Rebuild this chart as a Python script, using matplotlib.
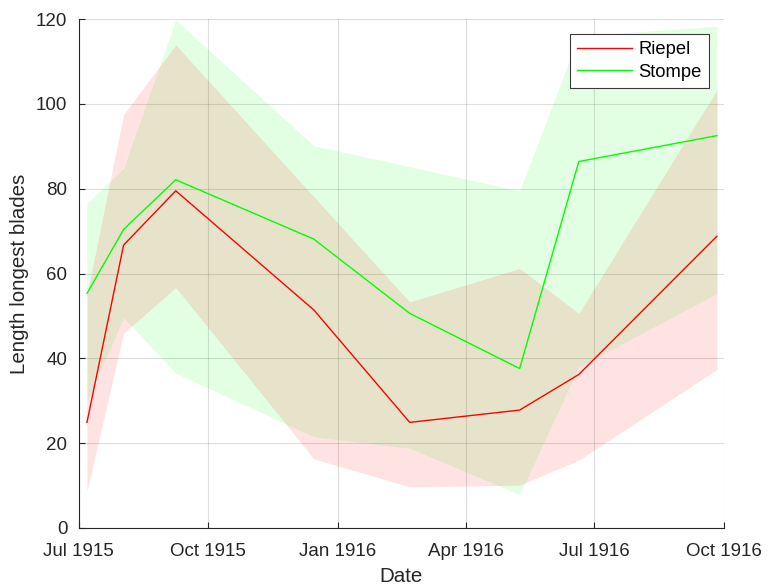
import matplotlib
matplotlib.use("Agg")
import matplotlib.pyplot as plt
import matplotlib.dates as mdates
import numpy as np
import datetime as dt

dates = ["1915-07-07", "1915-08-02", "1915-09-08", "1915-12-15",
         "1916-02-21", "1916-05-09", "1916-06-20", "1916-09-26"]

riepel_mean = [24.9, 66.7, 79.5, 51.4, 24.9, 27.8, 36.2, 68.8]
riepel_low = [8.7, 45.9, 56.7, 16.3, 9.7, 10.1, 16.0, 37.4]
riepel_high = [55.0, 97.5, 113.9, 78.1, 53.3, 61.2, 50.6, 103.3]

stompe_mean = [55.3, 70.4, 82.1, 68.1, 50.6, 37.6, 86.4, 92.5]
stompe_low = [29.8, 49.6, 36.5, 21.5, 18.8, 7.9, 38.0, 55.3]
stompe_high = [76.6, 84.8, 119.8, 90.1, 85.2, 79.5, 116.0, 118.3]

series_names = ["Riepel", "Stompe"]
x_label = "Date"
y_label = "Length longest blades"

plt.rcParams['font.family'] = ['Liberation Sans', 'DejaVu Sans']
tc = '#262626'

x = [dt.datetime.strptime(d, "%Y-%m-%d") for d in dates]

fig = plt.figure(figsize=(7.68, 5.86), dpi=100)
ax = fig.add_axes([78.5/768, 1-528/586, (724-78.5)/768, (528-19)/586])

ax.fill_between(x, stompe_low, stompe_high, color=(0, 1, 0), alpha=0.11, linewidth=0, zorder=1)
ax.fill_between(x, riepel_low, riepel_high, color=(1, 0, 0), alpha=0.11, linewidth=0, zorder=1)
ax.plot(x, riepel_mean, color=(1, 0, 0), lw=1.0, label=series_names[0], zorder=3)
ax.plot(x, stompe_mean, color=(0, 1, 0), lw=1.0, label=series_names[1], zorder=3)

ax.set_xlim(dt.datetime(1915, 7, 1), dt.datetime(1916, 10, 1))
ax.set_ylim(0, 120)
ax.xaxis.set_major_locator(mdates.MonthLocator(bymonth=[1, 4, 7, 10]))
ax.xaxis.set_major_formatter(mdates.DateFormatter('%b %Y'))
ax.set_yticks(np.arange(0, 121, 20))

ax.grid(True, color=tc, alpha=0.15, lw=0.8, zorder=0)
ax.set_axisbelow(True)
for s in ['top', 'right']:
    ax.spines[s].set_visible(False)
for s in ['left', 'bottom']:
    ax.spines[s].set_color(tc)
    ax.spines[s].set_linewidth(0.8)
ax.tick_params(direction='in', length=4.5, width=0.8, colors=tc, labelsize=13.5)
ax.tick_params(axis='x', pad=11)
ax.tick_params(axis='y', pad=8)

ax.set_xlabel(x_label, fontsize=14.8, color=tc, labelpad=5)
ax.set_ylabel(y_label, fontsize=14.8, color=tc, labelpad=5)

leg = ax.legend(loc='upper right', bbox_to_anchor=(0.9773, 0.9705), borderaxespad=0,
                fontsize=13.2, fancybox=False, framealpha=1, edgecolor='#3a3a3a',
                handlelength=3.0, handletextpad=0.35, labelspacing=0.3, borderpad=0.4)
leg.get_frame().set_linewidth(0.8)

fig.savefig("out.png", dpi=100)
